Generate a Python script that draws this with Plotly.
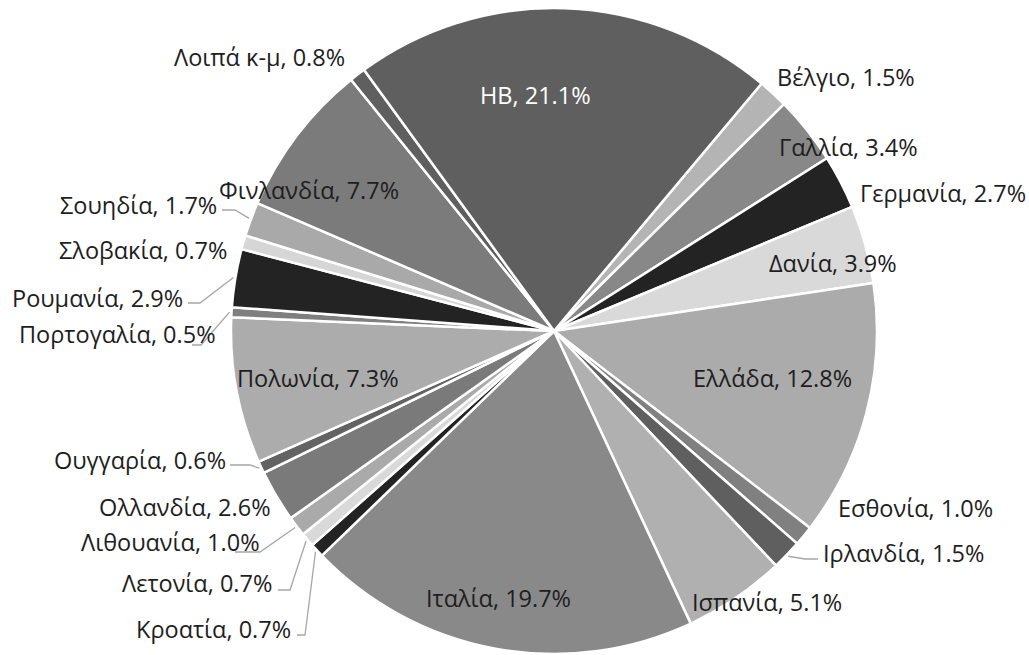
import math
import plotly.graph_objects as go

# Share of total by member state (%), in drawing order (clockwise)
countries = ["Βέλγιο", "Γαλλία", "Γερμανία", "Δανία", "Ελλάδα", "Εσθονία",
             "Ιρλανδία", "Ισπανία", "Ιταλία", "Κροατία", "Λετονία", "Λιθουανία",
             "Ολλανδία", "Ουγγαρία", "Πολωνία", "Πορτογαλία", "Ρουμανία",
             "Σλοβακία", "Σουηδία", "Φινλανδία", "Λοιπά κ-μ", "ΗΒ"]
shares = [1.5, 3.4, 2.7, 3.9, 12.8, 1.0,
          1.5, 5.1, 19.7, 0.7, 0.7, 1.0,
          2.6, 0.6, 7.3, 0.5, 2.9,
          0.7, 1.7, 7.7, 0.8, 21.1]
colors = ["#b4b4b4", "#888888", "#232323", "#d9d9d9", "#ababab", "#808080",
          "#5f5f5f", "#b0b0b0", "#898989", "#232323", "#d9d9d9", "#aaaaaa",
          "#7a7a7a", "#636363", "#acacac", "#7f7f7f", "#232323",
          "#d6d6d6", "#a9a9a9", "#7b7b7b", "#5f5f5f", "#5f5f5f"]

# Page and pie geometry in pixels
W, H = 1029, 655
PIE_CX, PIE_CY, PIE_R = 554, 331, 323
START_ANGLE = 40  # degrees clockwise from 12 o'clock

# Label centres (pixels) for each slice
label_pos = [(846, 77), (848, 147), (943, 193), (833, 263), (772, 378), (915, 508),
             (903, 553), (767, 602), (498, 598), (213, 629), (197, 583), (170, 542),
             (185, 507), (140, 460), (318, 378), (117, 334), (97, 298),
             (143, 250), (138, 205), (309, 190), (259, 57), (535, 95)]
label_colors = ["#1e1e1e"] * (len(countries) - 1) + ["#ffffff"]

# Leader lines: slice index -> (elbow point, end point) near the label
leaders = {
    6: ((805, 559), (818, 559)),
    9: ((305, 635), (297, 635)),
    10: ((290, 590), (278, 590)),
    11: ((260, 552), (235, 552)),
    13: ((250, 465), (230, 465)),
    15: ((201, 345), (192, 345)),
    16: ((200, 303), (188, 303)),
    18: ((235, 210), (222, 210)),
}


def px(x, y):
    return x / W, 1 - y / H


fig = go.Figure(go.Pie(
    labels=countries,
    values=shares,
    sort=False,
    direction="clockwise",
    rotation=START_ANGLE,
    marker=dict(colors=colors, line=dict(color="#ffffff", width=2.5)),
    textinfo="none",
    hovertemplate="%{label}, %{value:.1f}%<extra></extra>",
    domain=dict(x=[(PIE_CX - PIE_R) / W, (PIE_CX + PIE_R) / W],
                y=[1 - (PIE_CY + PIE_R) / H, 1 - (PIE_CY - PIE_R) / H]),
    showlegend=False,
))

total = sum(shares)
annotations = []
shapes = []
cum = 0.0
for i, (name, v) in enumerate(zip(countries, shares)):
    mid = math.radians(START_ANGLE + 360 * (cum + v / 2) / total)
    cum += v
    lx, ly = label_pos[i]
    ax, ay = px(lx, ly)
    annotations.append(dict(
        x=ax, y=ay, xref="paper", yref="paper",
        text=f"{name}, {v:.1f}%", showarrow=False,
        xanchor="center", yanchor="middle",
        font=dict(family="Open Sans", size=23.5, color=label_colors[i]),
    ))
    if i in leaders:
        sx = PIE_CX + (PIE_R + 2) * math.sin(mid)
        sy = PIE_CY - (PIE_R + 2) * math.cos(mid)
        (ex, ey), (tx, ty) = leaders[i]
        pts = [px(sx, sy), px(ex, ey), px(tx, ty)]
        path = "M " + " L ".join(f"{a:.5f},{b:.5f}" for a, b in pts)
        shapes.append(dict(type="path", path=path, xref="paper", yref="paper",
                           line=dict(color="#a6a6a6", width=1.3)))

fig.update_layout(
    width=W, height=H,
    margin=dict(l=0, r=0, t=0, b=0),
    paper_bgcolor="#ffffff",
    plot_bgcolor="#ffffff",
    annotations=annotations,
    shapes=shapes,
)

fig.write_html("out.html")
